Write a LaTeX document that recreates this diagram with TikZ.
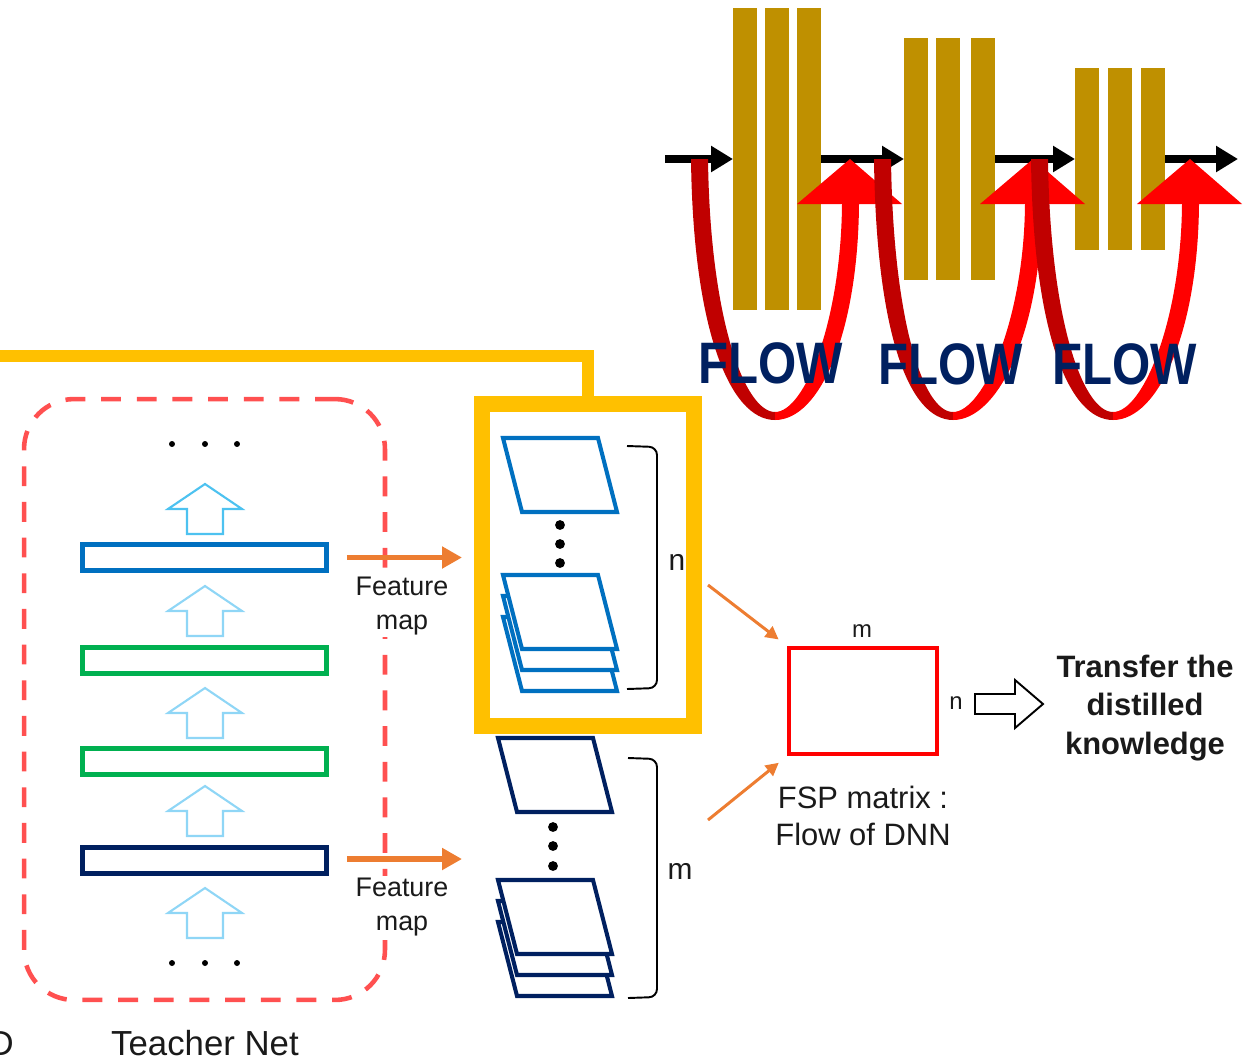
\documentclass[tikz,border=0pt]{standalone}
\usepackage{graphicx}
\usepackage{fontspec}
\setmainfont{Liberation Sans}
\usetikzlibrary{arrows.meta}

\definecolor{flowgold}{HTML}{BF9000}
\definecolor{flownavy}{HTML}{002060}
\definecolor{darkred}{HTML}{C00000}
\definecolor{hiyellow}{HTML}{FFC000}
\definecolor{dashred}{HTML}{FF5050}
\definecolor{layerblue}{HTML}{0070C0}
\definecolor{layergreen}{HTML}{00B050}
\definecolor{layernavy}{HTML}{002060}
\definecolor{upblue}{HTML}{4DC2F0}
\definecolor{uplight}{HTML}{8FD6F6}
\definecolor{fmorange}{HTML}{ED7D31}
\definecolor{txtgray}{HTML}{1A1A1A}

% U-shaped flow arrow: #1 left arm, #2 bottom, #3 tip
\newcommand{\flowloop}[3]{%
	\fill[darkred] (#1,159) .. controls (#1+2,330) and (#2-45,420) .. (#2,420)
		-- (#2,412) .. controls (#2-30,412) and (#1+19,320) .. (#1+17,159) -- cycle;
	\fill[red] (#2,420) .. controls (#2+46,420) and (#3+8,330) .. (#3+9,204)
		-- (#3-8,204) .. controls (#3-9,320) and (#2+30,412) .. (#2,412) -- cycle;
	\fill[red] (#3-53,204) -- (#3,159) -- (#3+52,204) -- cycle;
}

\tikzset{
	layerarrow/.pic={\draw[line width=1.2pt, draw=#1, fill=white]
		(-18,25) -- (-18,0) -- (-37,0) -- (0,-25) -- (37,0) -- (18,0) -- (18,25) -- cycle;},
	sheet/.pic={\draw[line width=2.3pt, draw=#1, fill=white, line join=miter]
		(0,0) -- (95,0) -- (114,74) -- (19,74) -- cycle;}
}

\begin{document}
\begin{tikzpicture}[x=0.02cm, y=-0.02cm]
	\tikzstyle{every node}=[align=center, inner sep=1pt, text=txtgray]
	\tikzstyle{bar}=[fill=flowgold, minimum width=0.48cm, inner sep=0pt, outer sep=0pt]
	\tikzstyle{flowline}=[line width=4pt, -{Triangle[length=0.44cm, width=0.5cm]}]
	\tikzstyle{flowtext}=[anchor=base, inner sep=0pt, text=flownavy, font=\fontsize{33.3pt}{36pt}\selectfont\bfseries]
	\tikzstyle{hiline}=[line width=6.8pt, draw=hiyellow]
	\tikzstyle{hibox}=[draw=hiyellow, line width=9pt, inner sep=0pt]
	\tikzstyle{teacherbox}=[draw=dashred, line width=2.6pt, dash pattern=on 11.3pt off 9pt, rounded corners=1cm, inner sep=0pt]
	\tikzstyle{layer}=[line width=2.8pt, minimum width=4.88cm, minimum height=0.52cm, inner sep=0pt, outer sep=0pt]
	\tikzstyle{featarrow}=[draw=fmorange, line width=3.4pt, -{Triangle[length=0.4cm, width=0.42cm]}]
	\tikzstyle{fmlabel}=[fill=white, font=\fontsize{15.3pt}{19.8pt}\selectfont]
	\tikzstyle{brk}=[line width=1.1pt, rounded corners=0.16cm]
	\tikzstyle{dimlabel}=[font=\fontsize{17pt}{20pt}\selectfont]
	\tikzstyle{thinarrow}=[draw=fmorange, line width=1.7pt, -{Triangle[length=0.26cm, width=0.26cm]}, shorten >=0.2cm]
	\tikzstyle{fsp}=[draw=red, line width=2.8pt, minimum width=2.96cm, minimum height=2.12cm, inner sep=0pt]
	\tikzstyle{smalllabel}=[font=\fontsize{13.6pt}{16pt}\selectfont]
	\tikzstyle{biglabel}=[font=\fontsize{17.6pt}{21.5pt}\selectfont]

	\useasboundingbox (0,0) rectangle (1250,1062);

	% flow of the layers
	\node[bar, minimum height=6.04cm] (b11) at (745,159) {};
	\node[bar, minimum height=6.04cm] (b12) at (777,159) {};
	\node[bar, minimum height=6.04cm] (b13) at (809,159) {};
	\node[bar, minimum height=4.84cm] (b21) at (916,159) {};
	\node[bar, minimum height=4.84cm] (b22) at (948,159) {};
	\node[bar, minimum height=4.84cm] (b23) at (983,159) {};
	\node[bar, minimum height=3.64cm] (b31) at (1087,159) {};
	\node[bar, minimum height=3.64cm] (b32) at (1120,159) {};
	\node[bar, minimum height=3.64cm] (b33) at (1153,159) {};

	\coordinate (fin) at (665,159);
	\coordinate (fout) at (1238,159);
	\draw[flowline] (fin) -- (b11.west);
	\draw[flowline] (b13.east) -- (b21.west);
	\draw[flowline] (b23.east) -- (b31.west);
	\draw[flowline] (b33.east) -- (fout);

	\flowloop{691}{775}{850}
	\flowloop{874}{953}{1033}
	\flowloop{1031}{1113}{1190}

	\node[flowtext] (flow1) at (771,383) {\scalebox{0.84}[1]{FLOW}};
	\node[flowtext] (flow2) at (951,384) {\scalebox{0.84}[1]{FLOW}};
	\node[flowtext] (flow3) at (1125,384) {\scalebox{0.84}[1]{FLOW}};

	% teacher network
	\node[teacherbox, minimum width=7.22cm, minimum height=12.02cm] (teacher) at (204.5,699.5) {};
	\node[anchor=base, inner sep=0pt, font=\fontsize{19.8pt}{24pt}\selectfont] (tlabel) at (205,1055) {Teacher Net};
	\node[anchor=base east, inner sep=0pt, font=\fontsize{19.8pt}{24pt}\selectfont] (cut) at (14,1055) {D};

	\node[layer, draw=layerblue] (l1) at (204.5,557.5) {};
	\node[layer, draw=layergreen] (l2) at (204.5,660.5) {};
	\node[layer, draw=layergreen] (l3) at (204.5,761.5) {};
	\node[layer, draw=layernavy] (l4) at (204.5,860.5) {};

	\pic at (205,509) {layerarrow=upblue};
	\pic at (205,611) {layerarrow=uplight};
	\pic at (205,713) {layerarrow=uplight};
	\pic at (205,811) {layerarrow=uplight};
	\pic at (205,913) {layerarrow=uplight};

	\foreach \x in {172,205,237} {
		\fill (\x,444) circle (1.7pt);
		\fill (\x,963) circle (1.7pt);
	}

	% feature maps
	\node[hibox, minimum width=4.24cm, minimum height=6.44cm] (fmbox) at (588,565) {};
	\coordinate (hl) at (0,356);
	\draw[hiline] (hl) -| (fmbox.north);

	\pic at (503,438) {sheet=layerblue};
	\pic at (503,617) {sheet=layerblue};
	\pic at (503,596) {sheet=layerblue};
	\pic at (503,575) {sheet=layerblue};
	\foreach \y in {525,544,563} \fill (560,\y) circle (2.8pt);

	\pic at (498,738) {sheet=layernavy};
	\pic at (498,922) {sheet=layernavy};
	\pic at (498,901) {sheet=layernavy};
	\pic at (498,880) {sheet=layernavy};
	\foreach \y in {827,846,866} \fill (553,\y) circle (2.8pt);

	\draw[brk] (627,446) -- (657,447) -- (657,688) -- (627,689);
	\draw[brk] (628,758) -- (657,759) -- (657,997) -- (628,998);
	\node[dimlabel] (nl) at (677,562) {n};
	\node[dimlabel] (ml) at (680,871) {m};

	\coordinate (fm1) at (462,557.5);
	\coordinate (fm2) at (462,859);
	\draw[featarrow, shorten <=0.41cm] (l1.east) -- (fm1);
	\draw[featarrow, shorten <=0.41cm] (l4.east |- fm2) -- (fm2);
	\node[fmlabel] (fl1) at (402,606) {Feature\\map};
	\node[fmlabel] (fl2) at (402,907) {Feature\\map};

	% FSP matrix
	\node[fsp] (fsp) at (863,701) {};
	\node[smalllabel] (fm) at (862,631) {m};
	\node[smalllabel] (fn) at (956,703) {n};
	\node[biglabel] (fspl) at (863,816) {FSP matrix :\\Flow of DNN};

	\coordinate (o1) at (708,585);
	\coordinate (o2) at (708,820);
	\draw[thinarrow] (o1) -- (fsp.north west);
	\draw[thinarrow] (o2) -- (fsp.south west);

	\draw[line width=1.1pt, fill=white] (975,694) -- (1015,694) -- (1015,680) -- (1043,704)
		-- (1015,728) -- (1015,714) -- (975,714) -- cycle;
	\node[biglabel, font=\fontsize{17.6pt}{21.8pt}\selectfont\bfseries] (tr) at (1145,708) {Transfer the\\distilled\\knowledge};
\end{tikzpicture}
\end{document}
